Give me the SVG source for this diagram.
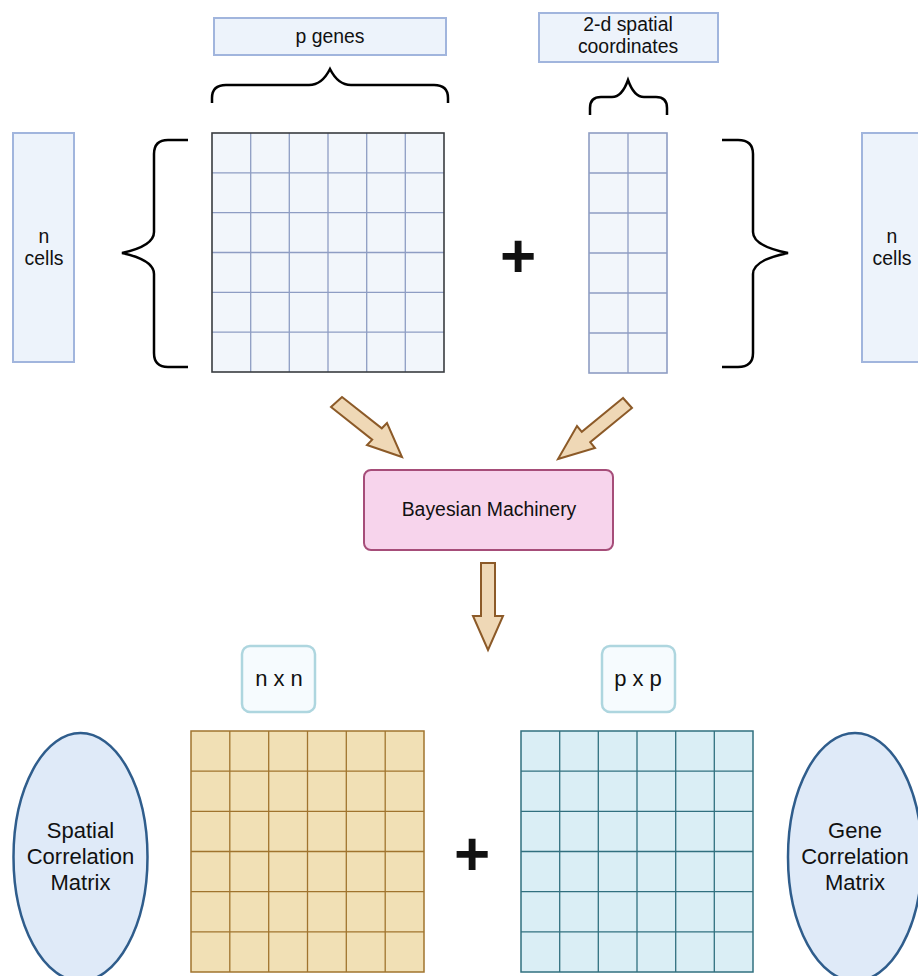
<svg xmlns="http://www.w3.org/2000/svg" width="918" height="976" viewBox="0 0 918 976">
<style>
text{font-family:"Liberation Sans",Arial,sans-serif;fill:#111;text-anchor:middle}
.lbl{fill:#edf3fb;stroke:#a1b5dd;stroke-width:2}
.t19{font-size:19.4px}
.t22{font-size:22px}
.brace{fill:none;stroke:#000;stroke-width:2.5;stroke-linecap:butt}
.arrow{fill:#efd8b6;stroke:#8c5a28;stroke-width:2;stroke-linejoin:miter}
.dim{fill:#f6fbfe;stroke:#aed6df;stroke-width:2.5}
.ell{fill:#dfeaf8;stroke:#2f5d8c;stroke-width:2.5}
.plus{font-size:62px;font-weight:bold}
.g1 line{stroke:#8e9dc3;stroke-width:1.3}
.g2 line{stroke:#a0742e;stroke-width:1.3}
.g3 line{stroke:#31707f;stroke-width:1.3}
</style>

<g id="p-genes-label">
<rect class="lbl" x="214" y="18" width="232" height="37"/>
<text class="t19" x="330" y="43">p genes</text>
</g>
<g id="coords-label">
<rect class="lbl" x="539" y="13" width="179" height="49"/>
<text class="t19" x="628" y="31">2-d spatial</text>
<text class="t19" x="628" y="53">coordinates</text>
</g>
<g id="n-cells-left">
<rect class="lbl" x="13" y="133" width="61" height="229"/>
<text class="t19" x="44" y="243">n</text>
<text class="t19" x="44" y="265">cells</text>
</g>
<g id="n-cells-right">
<rect class="lbl" x="862" y="133" width="61" height="229"/>
<text class="t19" x="892" y="243">n</text>
<text class="t19" x="892" y="265">cells</text>
</g>

<g id="braces">
<path class="brace" d="M212,103 V98 Q212,85 226,85 H309 Q322,85 330,69 Q338,85 351,85 H434 Q448,85 448,98 V103"/>
<path class="brace" d="M590,115 V108 Q590,97 601,97 H612 Q622,97 628,80 Q634,97 644,97 H656 Q667,97 667,108 V115"/>
<path class="brace" d="M188,140 H168 Q154,140 154,154 V232 Q154,246 122,253 Q154,260 154,274 V353 Q154,367 168,367 H188"/>
<path class="brace" d="M722,140 H738 Q753,140 753,154 V232 Q753,246 788,253 Q753,260 753,274 V353 Q753,367 738,367 H722"/>
</g>

<g id="gene-matrix" class="g1">
<rect x="212" y="133" width="232" height="239" fill="#f2f6fb"/>
<line x1="250.7" y1="133" x2="250.7" y2="372"/>
<line x1="289.3" y1="133" x2="289.3" y2="372"/>
<line x1="328" y1="133" x2="328" y2="372"/>
<line x1="366.7" y1="133" x2="366.7" y2="372"/>
<line x1="405.3" y1="133" x2="405.3" y2="372"/>
<line x1="212" y1="172.8" x2="444" y2="172.8"/>
<line x1="212" y1="212.7" x2="444" y2="212.7"/>
<line x1="212" y1="252.5" x2="444" y2="252.5"/>
<line x1="212" y1="292.3" x2="444" y2="292.3"/>
<line x1="212" y1="332.2" x2="444" y2="332.2"/>
<rect x="212" y="133" width="232" height="239" fill="none" stroke="#393c40" stroke-width="1.6"/>
</g>

<g id="coord-matrix" class="g1">
<rect x="589" y="133" width="78" height="240" fill="#f2f6fb" stroke="#8e9dc3" stroke-width="1.6"/>
<line x1="628" y1="133" x2="628" y2="373"/>
<line x1="589" y1="173" x2="667" y2="173"/>
<line x1="589" y1="213" x2="667" y2="213"/>
<line x1="589" y1="253" x2="667" y2="253"/>
<line x1="589" y1="293" x2="667" y2="293"/>
<line x1="589" y1="333" x2="667" y2="333"/>
</g>

<g id="plus-top"><text class="plus" x="518" y="277">+</text></g>

<g id="connectors">
<polygon class="arrow" points="342,397 381.8,428.3 387,423 402,457 367,445 372.2,439.7 331,407"/>
<polygon class="arrow" points="623,398 581.8,431.8 577,426 558,459 595,448 590.2,442.2 632,408"/>
<polygon class="arrow" points="481,563 495,563 495,616 503,616 488,650 473,616 481,616"/>
</g>

<g id="bayesian">
<rect x="364" y="470" width="249" height="80" rx="7" fill="#f7d4ec" stroke="#a64d79" stroke-width="2"/>
<text class="t19" x="489" y="516">Bayesian Machinery</text>
</g>

<g id="nxn-label">
<rect class="dim" x="242" y="646" width="73" height="66" rx="8"/>
<text class="t22" x="279" y="686">n x n</text>
</g>
<g id="pxp-label">
<rect class="dim" x="602" y="646" width="73" height="66" rx="8"/>
<text class="t22" x="638" y="686">p x p</text>
</g>

<g id="spatial-corr">
<ellipse class="ell" cx="80.5" cy="857" rx="67" ry="124"/>
<text class="t22" x="80.5" y="838">Spatial</text>
<text class="t22" x="80.5" y="864">Correlation</text>
<text class="t22" x="80.5" y="890">Matrix</text>
</g>
<g id="gene-corr">
<ellipse class="ell" cx="855" cy="857" rx="67" ry="124"/>
<text class="t22" x="855" y="838">Gene</text>
<text class="t22" x="855" y="864">Correlation</text>
<text class="t22" x="855" y="890">Matrix</text>
</g>

<g id="nxn-matrix" class="g2">
<rect x="191" y="731" width="233" height="241" fill="#f1e0b5" stroke="#a0742e" stroke-width="1.5"/>
<line x1="229.8" y1="731" x2="229.8" y2="972"/>
<line x1="268.7" y1="731" x2="268.7" y2="972"/>
<line x1="307.5" y1="731" x2="307.5" y2="972"/>
<line x1="346.3" y1="731" x2="346.3" y2="972"/>
<line x1="385.2" y1="731" x2="385.2" y2="972"/>
<line x1="191" y1="771.2" x2="424" y2="771.2"/>
<line x1="191" y1="811.3" x2="424" y2="811.3"/>
<line x1="191" y1="851.5" x2="424" y2="851.5"/>
<line x1="191" y1="891.7" x2="424" y2="891.7"/>
<line x1="191" y1="931.8" x2="424" y2="931.8"/>
</g>

<g id="plus-bottom"><text class="plus" x="472" y="875">+</text></g>

<g id="pxp-matrix" class="g3">
<rect x="521" y="731" width="232" height="241" fill="#daeef5" stroke="#31707f" stroke-width="1.5"/>
<line x1="559.7" y1="731" x2="559.7" y2="972"/>
<line x1="598.3" y1="731" x2="598.3" y2="972"/>
<line x1="637" y1="731" x2="637" y2="972"/>
<line x1="675.7" y1="731" x2="675.7" y2="972"/>
<line x1="714.3" y1="731" x2="714.3" y2="972"/>
<line x1="521" y1="771.2" x2="753" y2="771.2"/>
<line x1="521" y1="811.3" x2="753" y2="811.3"/>
<line x1="521" y1="851.5" x2="753" y2="851.5"/>
<line x1="521" y1="891.7" x2="753" y2="891.7"/>
<line x1="521" y1="931.8" x2="753" y2="931.8"/>
</g>
</svg>
